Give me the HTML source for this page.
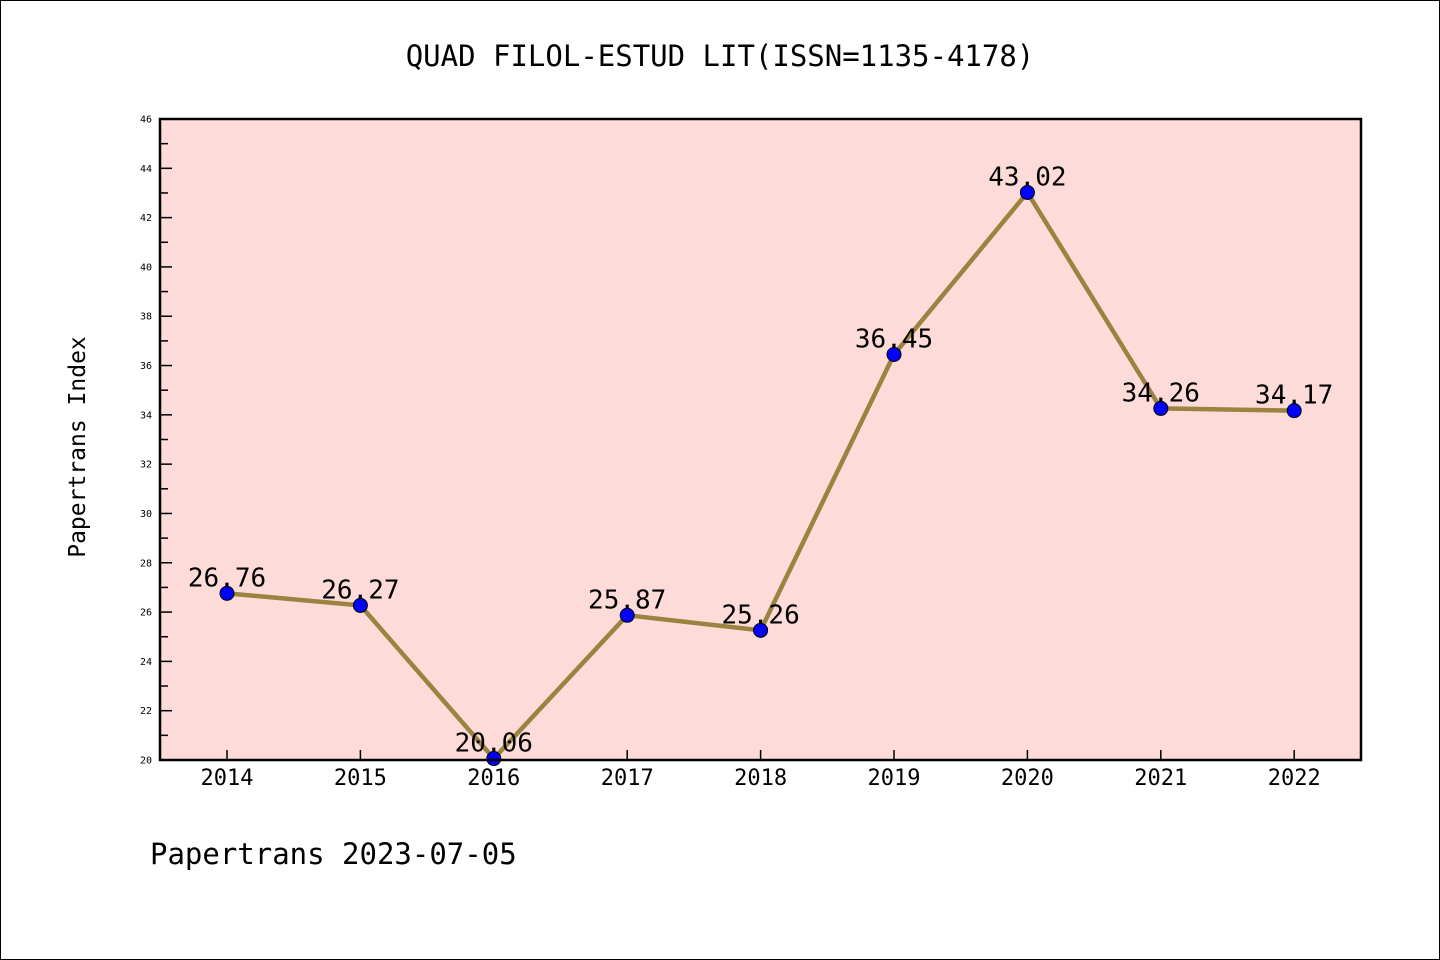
<!DOCTYPE html>
<html><head><meta charset="utf-8"><style>
html,body{margin:0;padding:0;background:#fff}
svg{display:block;font-family:"WenQuanYi Zen Hei","DejaVu Sans Mono",monospace}
</style></head><body>
<svg width="1440" height="960">
<rect x="0.5" y="0.5" width="1439" height="959" fill="#fff" stroke="#000"/>
<text x="720" y="66" text-anchor="middle" font-size="29">QUAD FILOL-ESTUD LIT(ISSN=1135-4178)</text>
<rect x="160" y="119" width="1201" height="641" fill="#fddbd8"/>
<g id="yaxis"></g>
<g id="xaxis"></g>
<g id="series"></g>
<rect x="160" y="119" width="1201" height="641" fill="none" stroke="#000" stroke-width="2.5"/>
<text transform="translate(85,447) rotate(-90)" text-anchor="middle" font-size="23">Papertrans Index</text>
<text x="150" y="864" font-size="29">Papertrans 2023-07-05</text>
</svg>
<script>
const years=["2014","2015","2016","2017","2018","2019","2020","2021","2022"];
const values=[26.76,26.27,20.06,25.87,25.26,36.45,43.02,34.26,34.17];
const yTicks=[20,22,24,26,28,30,32,34,36,38,40,42,44,46];
const NS="http://www.w3.org/2000/svg";
const x0=227,dx=133.4,yTop=119,yBot=760,yMin=20,yMax=46;
const X=i=>x0+i*dx, Y=v=>yBot-(v-yMin)/(yMax-yMin)*(yBot-yTop);
function mk(t,a,p){const e=document.createElementNS(NS,t);for(const k in a)e.setAttribute(k,a[k]);p.appendChild(e);return e;}
const ya=document.getElementById('yaxis'),xa=document.getElementById('xaxis'),se=document.getElementById('series');
for(let v=yMin;v<=yMax;v++){const major=v%2===0;const l=mk('line',{x1:160,x2:160+(major?12:8),y1:Y(v),y2:Y(v),stroke:'#000','stroke-width':1.5},ya);

}
yTicks.forEach(v=>{const t=mk('text',{x:152,y:Y(v)+3.5,'text-anchor':'end','font-size':10},ya);t.textContent=v;

});
years.forEach((y,i)=>{const l=mk('line',{x1:X(i),x2:X(i),y1:yBot,y2:yBot-10,stroke:'#000','stroke-width':1.5},xa);


const t=mk('text',{x:X(i),y:785,'text-anchor':'middle','font-size':22},xa);t.textContent=y;

});
const pl=mk('polyline',{points:values.map((v,i)=>X(i)+','+Y(v)).join(' '),fill:'none',stroke:'#9a8340','stroke-width':4.5},se);


values.forEach((v,i)=>{const c=mk('circle',{cx:X(i),cy:Y(v),r:7,fill:'#0000ff',stroke:'#000','stroke-width':1},se);


const t=mk('text',{x:X(i),y:Y(v)-7,'text-anchor':'middle','font-size':26},se);t.textContent=v.toFixed(2);

});
</script>
</body></html>
